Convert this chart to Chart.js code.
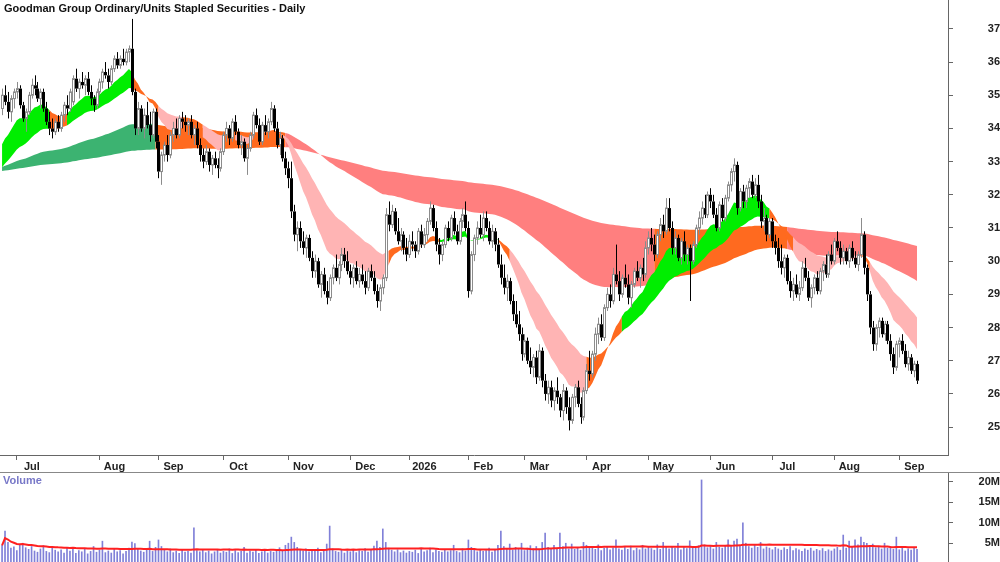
<!doctype html>
<html lang="en">
  <head>
    <meta charset="utf-8">
    <title>Goodman Group - Daily</title>
    <style>
      body { margin: 0; background: #fff; width: 1000px; height: 562px; overflow: hidden; position: relative; font-family: "Liberation Sans", Arial, sans-serif; }
      #pricePanel { position: absolute; left: 0; top: 0; width: 1000px; height: 472px; }
      #volPanel { position: absolute; left: 0; top: 472px; width: 1000px; height: 90px; border-top: 1px solid #888; }
      .label { position: absolute; font-weight: bold; font-size: 11px; }
    </style>
  </head>
  <body>
    <div id="pricePanel"><canvas id="priceChart" width="1000" height="472"></canvas></div>
    <div id="volPanel"><canvas id="volChart" width="1000" height="89"></canvas></div>
    <div class="label" style="left:4px; top:2px; color:#111;">Goodman Group Ordinary/Units Stapled Securities - Daily</div>
    <div class="label" style="left:3px; top:474px; color:#7878c8;">Volume</div>

    <script src="https://cdn.jsdelivr.net/npm/chart.js/dist/chart.umd.min.js"></script>
    <script>
    // daily bars: [open, high, low, close]
    const bars = [
      [34.6,35.2,34.4,35.0],[35.0,35.3,34.7,34.8],[34.8,35.1,34.3,34.5],[34.5,35.0,34.2,34.9],[34.9,35.2,34.6,35.1],
      [35.1,35.4,34.9,35.2],[35.2,35.3,34.6,34.7],[34.7,34.8,34.2,34.3],[34.3,34.6,33.9,34.5],[34.5,35.1,34.4,35.0],
      [35.0,35.5,34.9,35.3],[35.3,35.6,35.0,35.2],[35.2,35.4,34.8,34.9],[34.9,35.2,34.6,35.1],[35.1,35.2,34.5,34.6],
      [34.6,34.8,34.1,34.2],[34.2,34.5,33.8,34.0],[34.0,34.3,33.7,33.9],[33.9,34.3,33.8,34.2],[34.2,34.4,33.9,34.0],
      [34.0,34.5,33.9,34.4],[34.4,34.8,34.2,34.7],[34.7,35.0,34.4,34.6],[34.6,35.2,34.5,35.1],[34.8,35.6,34.7,35.5],
      [35.5,35.8,35.1,35.2],[35.2,35.5,34.9,35.4],[35.4,35.7,35.2,35.3],[35.3,35.6,35.0,35.5],[35.5,35.7,35.0,35.1],
      [35.1,35.3,34.7,34.9],[34.9,35.0,34.5,34.7],[34.7,35.2,34.6,35.1],[35.1,35.5,35.0,35.4],[35.4,35.8,35.2,35.7],
      [35.7,36.0,35.5,35.6],[35.6,35.8,35.2,35.4],[35.4,35.9,35.3,35.8],[35.8,36.2,35.7,36.1],[36.1,36.3,35.8,35.9],
      [35.9,36.2,35.8,36.1],[36.1,36.4,35.9,36.0],[36.0,36.4,35.9,36.3],[36.3,36.5,36.0,36.4],[36.4,37.3,35.0,35.1],
      [35.1,35.2,33.8,34.0],[34.0,34.8,33.8,34.6],[34.6,34.7,33.9,34.0],[34.0,34.6,33.7,34.4],[34.4,34.8,34.0,34.1],
      [34.1,34.5,33.6,33.8],[33.8,34.6,33.7,34.5],[34.5,34.6,33.4,33.6],[33.6,33.8,32.5,32.7],[32.7,33.3,32.3,33.2],
      [33.2,33.6,33.0,33.5],[33.5,33.8,33.0,33.2],[33.2,33.9,33.1,33.8],[33.8,34.2,33.6,34.0],[34.0,34.3,33.7,33.8],
      [33.8,34.4,33.7,34.3],[34.3,34.5,34.0,34.2],[34.2,34.4,33.9,34.1],[34.1,34.3,33.8,34.2],[34.2,34.4,33.7,33.8],
      [33.8,34.1,33.5,34.0],[34.0,34.2,33.4,33.5],[33.5,33.7,33.0,33.2],[33.2,33.4,32.8,33.0],[33.0,33.5,32.9,33.3],
      [33.3,33.4,32.7,32.9],[32.9,33.2,32.6,33.1],[33.1,33.3,32.8,32.9],[32.9,33.1,32.5,32.8],[32.8,33.4,32.7,33.3],
      [33.3,33.9,33.2,33.8],[33.8,34.2,33.6,34.0],[34.0,34.1,33.5,33.7],[33.7,34.3,33.6,34.2],[34.2,34.4,33.8,33.9],
      [33.9,34.0,33.4,33.5],[33.5,33.8,33.2,33.6],[33.6,33.7,33.0,33.1],[33.1,33.5,32.6,33.4],[33.4,33.9,33.3,33.8],
      [33.8,34.5,33.7,34.4],[34.4,34.6,34.0,34.1],[34.1,34.3,33.5,33.6],[33.6,34.2,33.5,34.1],[34.1,34.4,33.8,33.9],
      [33.9,34.3,33.7,34.2],[34.2,34.8,34.1,34.6],[34.6,34.7,33.9,34.0],[34.0,34.2,33.4,33.5],[33.5,33.9,33.2,33.7],
      [33.7,33.8,33.0,33.1],[33.1,33.3,32.6,32.8],[32.8,33.0,32.2,32.5],[32.5,33.0,31.3,31.5],[31.5,31.7,30.6,30.8],
      [30.8,31.2,30.3,31.0],[31.0,31.2,30.4,30.6],[30.6,30.9,30.2,30.4],[30.4,30.8,30.1,30.7],[30.7,30.8,30.0,30.1],
      [30.1,30.3,29.5,29.7],[29.7,30.2,29.5,30.0],[30.0,30.1,29.2,29.3],[29.3,29.7,28.9,29.6],[29.6,29.8,29.0,29.1],
      [29.1,29.4,28.7,28.9],[28.9,29.6,28.8,29.5],[29.5,29.9,29.3,29.8],[29.8,30.2,29.4,29.5],[29.5,30.0,29.3,29.9],
      [29.9,30.4,29.7,30.2],[30.2,30.4,29.8,30.0],[30.0,30.3,29.6,29.7],[29.7,29.9,29.3,29.5],[29.5,29.9,29.2,29.8],
      [29.8,30.0,29.3,29.4],[29.4,29.8,29.2,29.6],[29.6,29.9,29.3,29.4],[29.4,29.7,29.0,29.2],[29.2,29.8,29.1,29.7],
      [29.7,29.9,29.4,29.5],[29.5,29.7,29.0,29.1],[29.1,29.3,28.6,28.8],[28.8,29.3,28.5,29.2],[29.2,29.6,29.0,29.5],
      [29.5,31.6,29.4,31.4],[31.4,31.8,30.9,31.1],[31.1,31.7,31.0,31.5],[31.5,31.6,30.8,30.9],[30.9,31.3,30.5,30.6],
      [30.6,31.0,30.3,30.8],[30.8,30.9,30.2,30.4],[30.4,30.7,30.0,30.2],[30.2,30.8,30.1,30.6],[30.6,30.9,30.3,30.5],
      [30.5,30.6,30.1,30.3],[30.3,31.0,30.2,30.9],[30.9,31.1,30.4,30.5],[30.5,31.0,30.4,30.8],[30.8,31.3,30.6,31.2],
      [31.2,31.8,31.1,31.6],[31.6,31.7,30.9,31.0],[31.0,31.2,30.3,30.5],[30.5,30.7,29.9,30.2],[30.2,30.6,30.0,30.5],
      [30.5,31.1,30.4,31.0],[31.0,31.2,30.6,30.7],[30.7,31.4,30.6,31.3],[31.3,31.5,30.8,30.9],[30.9,31.1,30.5,30.6],
      [30.6,31.3,30.5,31.2],[31.2,31.6,31.0,31.4],[31.4,31.8,30.9,31.0],[31.0,31.2,28.9,29.1],[29.1,30.3,29.0,30.2],
      [30.2,30.8,30.0,30.7],[30.7,31.2,30.5,31.0],[31.0,31.4,30.7,30.8],[30.8,31.5,30.6,31.3],[31.3,31.5,30.9,31.0],
      [31.0,31.2,30.5,30.6],[30.6,31.1,30.4,30.9],[30.9,31.0,30.3,30.5],[30.5,30.7,29.8,29.9],[29.9,30.2,29.3,29.5],
      [29.5,29.9,29.0,29.2],[29.2,29.6,28.8,29.4],[29.4,29.5,28.7,28.8],[28.8,29.0,28.2,28.4],[28.4,28.8,28.0,28.1],
      [28.1,28.5,27.6,27.8],[27.8,28.0,27.0,27.2],[27.2,27.8,27.1,27.6],[27.6,27.7,26.9,27.0],[27.0,27.4,26.6,26.8],
      [26.8,27.2,26.5,27.1],[27.1,27.3,26.3,26.5],[26.5,27.5,26.4,27.3],[27.3,27.4,26.2,26.4],[26.4,26.6,25.8,26.0],
      [26.0,26.4,25.7,26.2],[26.2,26.4,25.6,25.8],[25.8,26.2,25.5,26.1],[26.1,26.5,25.7,25.9],[25.9,26.0,25.3,25.5],
      [25.5,26.3,25.2,26.1],[26.1,26.2,25.4,25.6],[25.6,25.9,24.9,25.2],[25.2,26.0,25.1,25.9],[25.9,26.3,25.6,26.2],
      [26.2,26.4,25.6,25.7],[25.7,25.9,25.1,25.3],[25.3,26.2,25.2,26.1],[26.1,26.9,26.0,26.7],[26.7,27.3,26.4,26.6],
      [26.6,27.3,26.5,27.2],[27.2,28.0,27.0,27.8],[27.8,28.3,27.5,28.1],[28.1,28.4,27.6,27.7],[27.7,28.7,27.6,28.6],
      [28.6,29.2,28.5,29.0],[29.0,29.3,28.6,28.8],[28.8,29.8,28.7,29.6],[29.6,30.5,29.3,29.4],[29.4,29.7,28.8,29.0],
      [29.0,29.6,28.9,29.5],[29.5,29.9,29.2,29.3],[29.3,29.6,28.7,28.9],[28.9,29.4,28.6,29.3],[29.3,29.8,29.2,29.7],
      [29.7,30.0,29.4,29.5],[29.5,29.9,29.2,29.8],[29.8,30.1,29.4,29.6],[29.6,30.6,29.5,30.4],[30.4,30.9,30.2,30.7],
      [30.7,31.0,30.3,30.5],[30.5,30.8,30.0,30.2],[30.2,30.9,30.1,30.8],[30.8,31.3,30.6,31.1],[31.1,31.4,30.7,30.9],
      [30.9,31.9,30.8,31.6],[31.6,31.9,30.9,31.0],[31.0,31.2,30.2,30.4],[30.4,30.9,30.2,30.7],[30.7,30.8,30.0,30.1],
      [30.1,30.7,29.9,30.6],[30.6,30.9,30.0,30.2],[30.2,30.5,29.9,30.4],[30.4,30.5,28.8,30.0],[30.0,30.6,29.9,30.5],
      [30.5,31.1,30.4,31.0],[31.0,31.5,30.8,31.3],[31.3,31.8,31.1,31.6],[31.6,32.0,31.3,31.4],[31.4,32.1,31.3,32.0],
      [32.0,32.2,31.6,31.8],[31.8,32.0,31.3,31.4],[31.4,31.6,30.9,31.0],[31.0,31.8,30.9,31.7],[31.7,31.9,31.2,31.3],
      [31.3,32.0,31.2,31.9],[31.9,32.4,31.8,32.3],[32.3,32.8,32.1,32.7],[32.7,33.1,32.4,32.9],[32.9,33.0,31.4,31.6],
      [31.6,32.2,31.5,32.1],[32.1,32.3,31.6,31.8],[31.8,32.3,31.6,32.2],[32.2,32.5,31.9,32.4],[32.4,32.6,31.9,32.0],
      [32.0,32.5,31.9,32.3],[32.3,32.6,31.6,31.8],[31.8,32.0,31.0,31.2],[31.2,31.6,30.9,31.3],[31.3,31.4,30.6,30.8],
      [30.8,31.3,30.7,31.2],[31.2,31.3,30.4,30.6],[30.6,30.8,30.2,30.4],[30.4,30.7,29.8,30.0],[30.0,30.5,29.6,29.8],
      [29.8,30.2,29.5,30.1],[30.1,30.2,29.3,29.4],[29.4,29.7,28.9,29.1],[29.1,29.5,28.8,29.3],[29.3,29.6,28.9,29.0],
      [29.0,29.4,28.8,29.2],[29.2,30.0,29.1,29.8],[29.8,30.1,29.4,29.5],[29.5,29.7,28.8,28.9],[28.9,29.3,28.6,29.2],
      [29.2,29.6,29.0,29.5],[29.5,29.7,29.0,29.1],[29.1,29.8,29.0,29.7],[29.7,30.0,29.4,29.9],[29.9,30.2,29.5,29.6],
      [29.6,30.3,29.5,30.2],[30.2,30.5,29.9,30.0],[30.0,30.7,29.9,30.6],[30.6,30.9,30.3,30.4],[30.4,30.6,29.9,30.1],
      [30.1,30.5,29.9,30.3],[30.3,30.4,29.9,30.0],[30.0,30.5,29.8,30.4],[30.4,30.6,30.0,30.1],[30.1,30.3,29.8,29.9],
      [29.9,30.3,29.7,30.2],[30.2,31.3,30.1,30.8],[30.8,30.9,29.6,29.8],[29.8,29.9,28.8,29.0],[29.0,29.1,27.8,28.0],
      [28.0,28.2,27.3,27.5],[27.5,28.1,27.3,28.0],[28.0,28.3,27.7,28.2],[28.2,28.3,27.7,27.8],[27.8,28.2,27.6,28.1],
      [28.1,28.2,27.5,27.6],[27.6,27.8,27.0,27.2],[27.2,27.4,26.6,26.8],[26.8,27.6,26.7,27.5],[27.5,27.7,27.1,27.6],
      [27.6,27.8,27.2,27.3],[27.3,27.5,26.8,26.9],[26.9,27.3,26.7,27.1],[27.1,27.2,26.6,26.7],[26.7,27.0,26.5,26.9],
      [26.9,27.0,26.3,26.4]
    ];

    // daily volume, millions
    const volumes = [
      4.5,8.0,5.2,3.8,4.1,3.2,4.6,5.0,3.9,3.5, 4.2,3.1,2.8,3.6,4.4,3.0,2.7,3.9,3.3,2.9,
      3.4,2.6,3.8,3.1,4.0,2.5,3.2,2.9,3.6,2.4, 3.0,4.2,2.8,3.3,5.5,2.7,3.1,2.6,3.5,2.9,
      3.2,2.4,3.0,3.8,5.3,4.9,3.6,3.1,2.8,3.4, 5.5,3.0,4.0,5.8,4.2,3.3,2.9,3.6,2.7,3.1,
      2.5,3.4,2.8,3.0,2.6,8.8,3.2,2.9,3.5,2.7, 3.1,2.4,2.9,3.3,2.6,3.0,2.8,3.6,2.5,3.2,
      2.7,3.0,4.0,2.6,3.1,2.8,3.4,2.5,2.9,3.3, 2.6,3.0,2.8,3.4,3.9,3.2,4.5,5.0,6.5,5.2,
      4.0,3.5,3.1,3.6,2.9,3.3,3.0,3.8,2.7,3.2, 4.8,9.2,3.6,3.0,2.8,3.4,2.6,3.1,2.9,3.5,
      2.7,3.2,3.0,3.7,2.8,3.3,4.3,5.5,4.0,8.5, 5.2,3.8,3.3,2.9,3.4,2.7,3.1,2.6,3.0,2.8,
      3.3,2.5,3.6,2.9,3.2,3.8,2.7,3.4,3.0,2.8, 3.5,2.9,3.2,4.5,3.0,2.7,3.6,3.1,5.8,4.0,
      3.3,2.9,3.5,3.0,3.2,3.8,2.8,3.4,4.5,8.0, 4.2,3.6,4.8,3.3,4.0,3.5,5.0,3.2,3.8,4.4,
      3.6,4.2,3.4,5.2,7.5,4.0,3.6,4.5,3.8,7.5, 4.2,5.0,3.6,4.8,3.5,4.0,3.3,5.2,4.5,3.8,
      4.0,3.5,4.6,3.2,3.8,4.2,3.4,3.9,5.8,3.6, 3.3,4.0,3.5,4.3,3.2,3.8,3.4,4.5,3.6,4.1,
      3.7,3.3,4.6,3.5,5.2,4.0,3.6,4.2,3.8,5.0, 3.4,4.1,3.7,5.6,4.0,3.8,4.4,20.5,4.6,3.9,
      4.2,3.6,5.2,4.0,3.8,4.5,5.8,4.2,5.5,6.0, 4.4,10.0,5.0,4.2,3.8,4.6,4.0,5.2,3.6,4.1,
      3.8,3.4,4.0,3.6,3.3,3.9,3.5,4.2,3.2,3.7, 3.4,3.0,3.6,3.3,3.8,3.1,3.5,3.2,3.7,3.0,
      3.4,3.1,3.6,4.0,3.3,7.0,3.8,5.5,4.2,5.8, 4.6,6.5,5.2,5.0,4.4,4.8,3.9,4.2,3.6,5.0,
      3.8,4.2,3.5,6.5,3.4,3.9,3.1,3.6,3.3,3.8, 3.5
    ];

    const monthStarts = [5, 33, 53, 75, 97, 118, 138, 158, 177, 198, 219, 240, 261, 282, 304];
    const monthLabels = ['Jul','Aug','Sep','Oct','Nov','Dec','2026','Feb','Mar','Apr','May','Jun','Jul','Aug','Sep'];
    const priceTicks = [25,26,27,28,29,30,31,32,33,34,35,36,37];
    const volumeTicks = [5,10,15,20];

    // ribbon EMA periods and their values at the left edge
    const fastPeriods = [14, 34];
    const fastSeeds = [33.3, 32.7];
    const slowPeriods = [110, 300];
    const slowSeeds = [32.8, 32.7];

    // ribbon colour runs: start bar index and colour key
    const fastRunStarts = [0, 16, 22, 44, 53, 61, 68, 75, 79, 85, 93, 131, 148, 168, 172, 198, 210, 260, 268, 290, 294];
    const fastRunColors = ['up','mix','up','mix','down','mix','down','mix','down','mix','down','mix','up','mix','down','mix','up','mix','down','mix','down'];
    const slowRunStarts = [0, 52, 96, 221, 266];
    const slowRunColors = ['up','mix','down','mix','down'];

    const fastPalette = { up: '#00ee00', mix: '#ff6a1f', down: '#ffb4b4' };
    const slowPalette = { up: '#3cb371', mix: '#ff6a1f', down: '#ff7f7f' };

    const closes = bars.map(b => b[3]);

    function ema(values, period, seed) {
      const k = 2 / (period + 1);
      const out = [];
      let prev = seed;
      values.forEach(v => { prev = prev + k * (v - prev); out.push(prev); });
      return out;
    }

    function sma(values, period) {
      return values.map((v, i) => {
        const from = Math.max(0, i - period + 1);
        const part = values.slice(from, i + 1);
        return part.reduce((a, b) => a + b, 0) / part.length;
      });
    }

    const fastA = ema(closes, fastPeriods[0], fastSeeds[0]);
    const fastB = ema(closes, fastPeriods[1], fastSeeds[1]);
    const slowA = ema(closes, slowPeriods[0], slowSeeds[0]);
    const slowB = ema(closes, slowPeriods[1], slowSeeds[1]);
    const volAvg = sma(volumes, 50);

    function colourAt(i, starts, names, palette) {
      let k = 0;
      for (let j = 0; j < starts.length; j++) if (i >= starts[j]) k = j;
      return palette[names[k]];
    }

    function drawBand(ctx, xs, ys, a, b, starts, names, palette) {
      let i = 0;
      const n = a.length;
      while (i < n - 1) {
        const col = colourAt(i, starts, names, palette);
        let j = i;
        while (j < n - 1 && colourAt(j, starts, names, palette) === col) j++;
        ctx.beginPath();
        for (let t = i; t <= j; t++) ctx.lineTo(xs.getPixelForValue(t), ys.getPixelForValue(a[t]));
        for (let t = j; t >= i; t--) ctx.lineTo(xs.getPixelForValue(t), ys.getPixelForValue(b[t]));
        ctx.closePath();
        ctx.fillStyle = col;
        ctx.fill();
        i = j;
      }
    }

    const ribbonPlugin = {
      id: 'ribbons',
      beforeDatasetsDraw(chart) {
        const { ctx, scales: { x, y }, chartArea } = chart;
        ctx.save();
        ctx.beginPath();
        ctx.rect(chartArea.left, chartArea.top, chartArea.width, chartArea.height);
        ctx.clip();
        drawBand(ctx, x, y, slowA, slowB, slowRunStarts, slowRunColors, slowPalette);
        drawBand(ctx, x, y, fastA, fastB, fastRunStarts, fastRunColors, fastPalette);
        ctx.restore();
      }
    };

    const candlePlugin = {
      id: 'candles',
      afterDatasetsDraw(chart) {
        const { ctx, scales: { x, y } } = chart;
        ctx.save();
        ctx.lineWidth = 1;
        bars.forEach((b, i) => {
          const [o, h, l, c] = b;
          const px = Math.round(x.getPixelForValue(i)) + 0.5;
          const up = c >= o;
          ctx.strokeStyle = up ? '#8c8c8c' : '#000';
          const yo = y.getPixelForValue(o), yc = y.getPixelForValue(c);
          const top = Math.min(yo, yc), bot = Math.max(yo, yc);
          ctx.beginPath();
          ctx.moveTo(px, y.getPixelForValue(h));
          ctx.lineTo(px, top);
          ctx.moveTo(px, bot);
          ctx.lineTo(px, y.getPixelForValue(l));
          ctx.stroke();
          if (up) {
            ctx.fillStyle = '#fff';
            ctx.fillRect(px - 1, top, 2, Math.max(1, bot - top));
            ctx.strokeRect(px - 1, top, 2, Math.max(1, bot - top));
          } else {
            ctx.fillStyle = '#000';
            ctx.fillRect(px - 1.5, top, 3, Math.max(1, bot - top));
          }
        });
        ctx.restore();
      }
    };

    const tickFont = { family: 'Liberation Sans', size: 11, weight: 'bold' };
    const xMin = -0.7, xMax = 320.5;
    const noPadY = s => { s.width = 52; s.paddingTop = 0; s.paddingBottom = 0; };

    new Chart(document.getElementById('priceChart'), {
      type: 'line',
      data: {
        datasets: [{
          data: closes.map((c, i) => ({ x: i, y: c })),
          showLine: false,
          pointRadius: 0
        }]
      },
      options: {
        responsive: false,
        animation: false,
        layout: { padding: 0 },
        plugins: { legend: { display: false }, tooltip: { enabled: false } },
        scales: {
          x: {
            type: 'linear',
            min: xMin,
            max: xMax,
            afterBuildTicks: s => { s.ticks = monthStarts.map(v => ({ value: v })); },
            afterFit: s => { s.height = 17; s.paddingLeft = 0; s.paddingRight = 0; },
            ticks: {
              autoSkip: false,
              maxRotation: 0,
              padding: 0,
              labelOffset: 15,
              color: '#222',
              font: tickFont,
              callback: v => monthLabels[monthStarts.indexOf(v)]
            },
            grid: { drawOnChartArea: false, tickLength: 5, color: '#666' },
            border: { color: '#666' }
          },
          y: {
            position: 'right',
            min: 24.16,
            max: 37.87,
            afterBuildTicks: s => { s.ticks = priceTicks.map(v => ({ value: v })); },
            afterFit: noPadY,
            ticks: { color: '#222', font: tickFont, crossAlign: 'far', padding: 4 },
            grid: { drawOnChartArea: false, tickLength: 5, color: '#666' },
            border: { color: '#666' }
          }
        }
      },
      plugins: [ribbonPlugin, candlePlugin]
    });

    new Chart(document.getElementById('volChart'), {
      data: {
        datasets: [
          {
            type: 'line',
            data: volAvg.map((v, i) => ({ x: i, y: v })),
            borderColor: '#ff2020',
            borderWidth: 2,
            pointRadius: 0,
            order: 0
          },
          {
            type: 'bar',
            data: volumes.map((v, i) => ({ x: i, y: v })),
            backgroundColor: '#8080d8',
            barThickness: 1,
            order: 1
          }
        ]
      },
      options: {
        responsive: false,
        animation: false,
        layout: { padding: 0 },
        plugins: { legend: { display: false }, tooltip: { enabled: false } },
        scales: {
          x: { type: 'linear', min: xMin, max: xMax, display: false, offset: false },
          y: {
            position: 'right',
            min: 0.4,
            max: 22.2,
            afterBuildTicks: s => { s.ticks = volumeTicks.map(v => ({ value: v })); },
            afterFit: noPadY,
            ticks: { color: '#222', font: tickFont, crossAlign: 'far', padding: 4, callback: v => v + 'M' },
            grid: { drawOnChartArea: false, tickLength: 5, color: '#666' },
            border: { color: '#666' }
          }
        }
      }
    });
    </script>
  </body>
</html>
